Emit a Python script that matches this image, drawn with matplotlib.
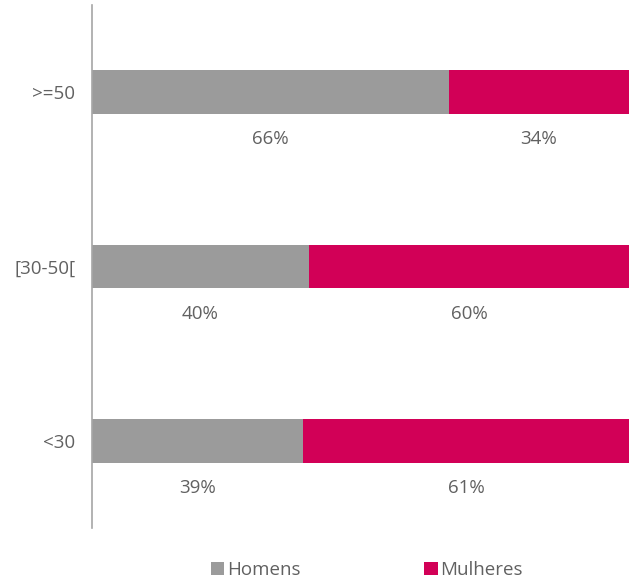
import numpy as np
import matplotlib.pyplot as plt

plt.rcParams["font.family"] = ["Open Sans", "DejaVu Sans"]

categories = ["<30", "[30-50[", ">=50"]
homens = [39.3, 40.4, 66.4]
mulheres = [60.7, 59.6, 33.6]

gray = "#9b9b9b"
magenta = "#d20057"
text_color = "#616161"

fig = plt.figure(figsize=(6.29, 5.82), dpi=100)
ax = fig.add_axes([92 / 629, 1 - 528 / 582, 1 - 92 / 629, 523 / 582])

y = np.arange(len(categories))
ax.barh(y, homens, height=0.252, color=gray, label="Homens")
ax.barh(y, mulheres, left=homens, height=0.252, color=magenta, label="Mulheres")

for i in range(len(categories)):
    ax.text(homens[i] / 2, y[i] - 0.27, "{:.0f}%".format(homens[i]),
            ha="center", va="center", fontsize=13.5, color=text_color)
    ax.text(homens[i] + mulheres[i] / 2, y[i] - 0.27, "{:.0f}%".format(mulheres[i]),
            ha="center", va="center", fontsize=13.5, color=text_color)

ax.set_xlim(0, 100)
ax.set_ylim(-0.5, 2.5)
ax.set_yticks(y)
ax.set_yticklabels(categories, fontsize=13.5, color=text_color)
ax.tick_params(axis="y", length=0, pad=12)
ax.set_xticks([])
for s in ["top", "right", "bottom"]:
    ax.spines[s].set_visible(False)
ax.spines["left"].set_color("#a6a6a6")
ax.spines["left"].set_linewidth(1.2)

leg = fig.legend(loc="center", bbox_to_anchor=(367 / 629, 1 - 570 / 582), ncol=2,
                 frameon=False, fontsize=13.5, handlelength=0.7, handleheight=0.7,
                 handletextpad=0.15, columnspacing=6.6)
for t in leg.get_texts():
    t.set_color(text_color)

fig.savefig("out.png", dpi=100)
